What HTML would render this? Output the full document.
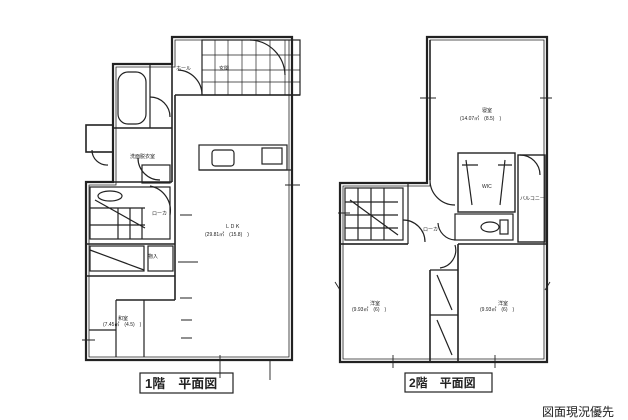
<!DOCTYPE html>
<html><head><meta charset="utf-8"><style>
html,body{margin:0;padding:0;background:#fff;width:628px;height:420px;overflow:hidden}
svg{display:block}
text{font-family:"Liberation Sans","Noto Sans CJK JP",sans-serif;fill:#222}
</style></head><body>
<svg width="628" height="420" viewBox="0 0 628 420" xmlns="http://www.w3.org/2000/svg">
<g fill="none" stroke="#222" stroke-width="1.2">
<!-- ===== 1F ===== -->
<!-- outer double walls -->
<path d="M172 37 H292 V360 H86 V182 H113 V64 H172 Z" stroke-width="2.2"/>
<path d="M175 40 H289 V357 H89 V185 H116 V67 H175 Z" stroke-width="0.8"/>
<!-- small utility box -->
<rect x="86" y="125" width="27" height="27" stroke-width="1.6"/>
<!-- bath -->
<rect x="118" y="72" width="28" height="52" rx="10"/>
<line x1="113" y1="128" x2="172" y2="128" stroke-width="1.6"/>
<line x1="150" y1="64" x2="150" y2="128"/>
<!-- partition bath/hall -->
<line x1="172" y1="64" x2="172" y2="182" stroke-width="1.6"/>
<line x1="175" y1="95" x2="175" y2="300" stroke-width="1.6"/>
<!-- washroom sink -->
<rect x="142" y="165" width="28" height="18"/>
<line x1="86" y1="182" x2="172" y2="182" stroke-width="1.6"/>
<!-- toilet / stairs block -->
<rect x="90" y="187" width="80" height="52"/>
<path d="M90 208 H145 M90 225 H145 M118 208 V239 M130 208 V239 M142 208 V239 M95 200 L145 228"/>
<ellipse cx="110" cy="196" rx="12" ry="5"/>
<line x1="86" y1="244" x2="175" y2="244" stroke-width="1.6"/>
<rect x="90" y="246" width="54" height="25"/>
<path d="M90 250 L144 270"/>
<rect x="148" y="246" width="25" height="25"/>
<line x1="86" y1="276" x2="175" y2="276" stroke-width="1.6"/>
<!-- washitsu -->
<line x1="116" y1="300" x2="175" y2="300" stroke-width="1.4"/>
<line x1="116" y1="300" x2="116" y2="357"/>
<line x1="144" y1="300" x2="144" y2="357"/>
<line x1="89" y1="330" x2="116" y2="330"/>
<!-- entrance tiles -->
<rect x="202" y="40" width="98" height="55"/>
<path d="M202 55 H300 M202 70 H300 M202 82 H300 M215 40 V95 M228 40 V95 M242 40 V95 M256 40 V95 M270 40 V95 M285 40 V95" stroke-width="0.7"/>
<line x1="175" y1="95" x2="300" y2="95" stroke-width="1.4"/>
<path d="M178 70 A25 25 0 0 1 202 95"/>
<path d="M250 40 A36 36 0 0 1 285 75"/>
<!-- kitchen -->
<rect x="199" y="145" width="88" height="25"/>
<rect x="212" y="150" width="22" height="16" rx="3"/>
<rect x="262" y="148" width="20" height="16"/>
<line x1="199" y1="170" x2="292" y2="170"/>
<!-- door arcs -->
<path d="M150 97 A20 20 0 0 1 170 117"/>
<path d="M138 158 A22 22 0 0 0 160 180"/>
<path d="M150 186 A25 25 0 0 1 170 215"/>
<path d="M92 150 A15 15 0 0 0 108 165" />
<!-- tick marks -->
<path d="M285 185 H300 M82 340 H95 M270 380 V360 M220 355 V378 M180 298 H192 M181 320 H192 M181 338 H192 M180 215 H192 M178 262 H198" stroke-width="0.9"/>
<!-- ===== 2F ===== -->
<path d="M427 37 H547 V362 H340 V183 H427 Z" stroke-width="2.2"/>
<path d="M430 40 H544 V359 H343 V186 H430 Z" stroke-width="0.8"/>
<line x1="430" y1="40" x2="430" y2="180" stroke-width="1.6"/>
<!-- stairs -->
<rect x="345" y="188" width="58" height="52"/>
<path d="M345 202 H398 M345 215 H398 M345 228 H398 M358 188 V240 M371 188 V240 M384 188 V240 M350 200 L398 235"/>
<line x1="340" y1="244" x2="408" y2="244" stroke-width="1.6"/>
<line x1="408" y1="183" x2="408" y2="244"/>
<!-- WIC -->
<rect x="458" y="153" width="57" height="59" stroke-width="1.4"/>
<path d="M466 160 L472 205 M505 160 L500 205 M462 165 H478 M498 165 H512"/>
<!-- balcony -->
<rect x="518" y="155" width="27" height="87" stroke-width="1.4"/>
<!-- toilet -->
<rect x="455" y="214" width="58" height="26"/>
<ellipse cx="490" cy="227" rx="9" ry="5"/>
<rect x="500" y="220" width="8" height="14"/>
<line x1="340" y1="244" x2="408" y2="244"/>
<line x1="458" y1="244" x2="547" y2="244" stroke-width="1.6"/>
<!-- hallway walls -->
<line x1="430" y1="270" x2="430" y2="362" stroke-width="1.6"/>
<line x1="458" y1="244" x2="458" y2="362" stroke-width="1.6"/>
<line x1="430" y1="270" x2="458" y2="270"/>
<line x1="430" y1="315" x2="458" y2="315"/>
<path d="M437 275 L452 310 M437 320 L452 355"/>
<!-- door arcs -->
<path d="M430 180 A25 25 0 0 0 455 205"/>
<path d="M403 220 A22 22 0 0 1 425 242"/>
<path d="M438 223 A18 18 0 0 0 455 240"/>
<path d="M455 245 A18 18 0 0 1 440 268"/>
<path d="M520 155 A20 20 0 0 1 540 175"/>
<!-- ticks -->
<path d="M420 98 H436 M540 98 H552 M335 282 L340 290 M550 282 L545 290 M393 355 V368 M495 355 V368 M338 213 H350" stroke-width="0.9"/>
<!-- title boxes -->
<rect x="140" y="373" width="93" height="20" stroke-width="1.2"/>
<rect x="405" y="373" width="87" height="19" stroke-width="1.2"/>
</g>
<!-- labels -->
<g font-size="5">
<text x="176" y="70">ホール</text>
<text x="219" y="70">玄関</text>
<text x="130" y="158">洗面脱衣室</text>
<text x="152" y="215">ローカ</text>
<text x="225" y="228">ＬＤＫ</text>
<text x="205" y="236">(29.81㎡　(15.8)　)</text>
<text x="148" y="258">物入</text>
<text x="118" y="320">和室</text>
<text x="103" y="326">(7.45㎡　(4.5)　)</text>
<text x="482" y="112">寝室</text>
<text x="460" y="120">(14.07㎡　(8.5)　)</text>
<text x="482" y="188">WIC</text>
<text x="520" y="200">バルコニー</text>
<text x="423" y="231">ローカ</text>
<text x="370" y="305">洋室</text>
<text x="352" y="311">(9.93㎡　(6)　)</text>
<text x="498" y="305">洋室</text>
<text x="480" y="311">(9.93㎡　(6)　)</text>
</g>
<text x="145" y="388" font-size="13" font-weight="bold">1階　平面図</text>
<text x="409" y="387" font-size="12" font-weight="bold">2階　平面図</text>
<text x="542" y="416" font-size="12">図面現況優先</text>
</svg>
</body></html>
